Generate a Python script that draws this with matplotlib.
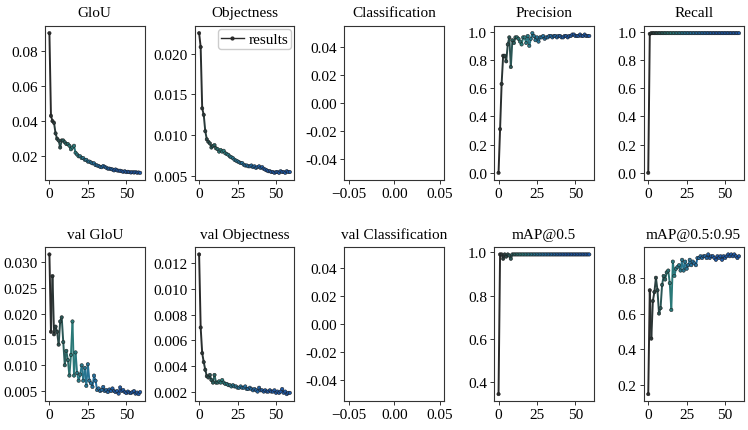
import numpy as np
import matplotlib
matplotlib.use("Agg")
import matplotlib.pyplot as plt
from matplotlib.collections import LineCollection
from matplotlib.colors import LinearSegmentedColormap
from matplotlib.lines import Line2D
from matplotlib.ticker import MultipleLocator, FormatStrFormatter

plt.rcParams["font.family"] = ["Liberation Serif", "DejaVu Serif"]

titles = ["GloU", "Objectness", "Classification", "Precision", "Recall",
          "val GloU", "val Objectness", "val Classification", "mAP@0.5", "mAP@0.5:0.95"]

epochs = list(range(60))

giou = [0.090, 0.043, 0.040, 0.039, 0.033, 0.030, 0.029, 0.025, 0.029, 0.029,
        0.028, 0.027, 0.027, 0.026, 0.024, 0.025, 0.026, 0.022, 0.021, 0.020,
        0.020, 0.019, 0.019, 0.018, 0.018, 0.017, 0.017, 0.0165, 0.016, 0.016,
        0.015, 0.0148, 0.0145, 0.014, 0.0138, 0.0145, 0.014, 0.0135, 0.013, 0.013,
        0.0128, 0.0125, 0.012, 0.0125, 0.012, 0.0118, 0.0118, 0.0115, 0.0112, 0.0115,
        0.011, 0.0112, 0.011, 0.0108, 0.011, 0.0108, 0.011, 0.0107, 0.0108, 0.0106]

objectness = [0.0225, 0.0208, 0.0133, 0.0125, 0.0105, 0.0095, 0.0092, 0.0090, 0.0085, 0.0087,
              0.0088, 0.0084, 0.0083, 0.0080, 0.0082, 0.0080, 0.0081, 0.0078, 0.0077, 0.0076,
              0.0074, 0.0073, 0.0072, 0.0070, 0.0069, 0.0068, 0.0067, 0.0066, 0.0066, 0.0064,
              0.0063, 0.0063, 0.0062, 0.0062, 0.0063, 0.0061, 0.0062, 0.0060, 0.0061, 0.0062,
              0.0060, 0.0061, 0.0059, 0.0058, 0.0057, 0.0056, 0.0056, 0.0055, 0.0055, 0.0054,
              0.0055, 0.0055, 0.0054, 0.0056, 0.0055, 0.0055, 0.0054, 0.0056, 0.0055, 0.0055]

classification = []

precision = [0.0, 0.31, 0.63, 0.83, 0.83, 0.79, 0.91, 0.96, 0.75, 0.94,
             0.92, 0.96, 0.96, 0.95, 0.93, 0.91, 0.96, 0.96, 0.92, 0.97,
             0.90, 0.95, 0.99, 0.97, 0.94, 0.96, 0.93, 0.96, 0.96, 0.97,
             0.95, 0.96, 0.96, 0.97, 0.97, 0.96, 0.97, 0.97, 0.96, 0.97,
             0.97, 0.96, 0.96, 0.97, 0.97, 0.96, 0.97, 0.97, 0.98, 0.98,
             0.97, 0.97, 0.97, 0.98, 0.97, 0.97, 0.98, 0.97, 0.97, 0.97]

recall = [0.0, 0.985, 0.99, 0.99, 0.99, 0.99, 0.99, 0.99, 0.99, 0.99,
          0.99, 0.99, 0.99, 0.99, 0.99, 0.99, 0.99, 0.99, 0.99, 0.99,
          0.99, 0.99, 0.99, 0.99, 0.99, 0.99, 0.99, 0.99, 0.99, 0.99,
          0.99, 0.99, 0.99, 0.99, 0.99, 0.99, 0.99, 0.99, 0.99, 0.99,
          0.99, 0.99, 0.99, 0.99, 0.99, 0.99, 0.99, 0.99, 0.99, 0.99,
          0.99, 0.99, 0.99, 0.99, 0.99, 0.99, 0.99, 0.99, 0.99, 0.99]

val_giou = [0.0315, 0.0165, 0.0273, 0.0160, 0.0175, 0.0165, 0.0140, 0.0185, 0.0193, 0.0145,
            0.0100, 0.0128, 0.0110, 0.0080, 0.0120, 0.0185, 0.0080, 0.0125, 0.0085, 0.0070,
            0.0082, 0.0100, 0.0070, 0.0095, 0.0060, 0.0102, 0.0070, 0.0065, 0.0058, 0.0080,
            0.0070, 0.0052, 0.0055, 0.0050, 0.0052, 0.0058, 0.0050, 0.0052, 0.0048, 0.0053,
            0.0050, 0.0055, 0.0050, 0.0048, 0.0050, 0.0045, 0.0057, 0.0050, 0.0052, 0.0048,
            0.0046, 0.0049, 0.0047, 0.0046, 0.0048, 0.0050, 0.0045, 0.0047, 0.0044, 0.0048]

val_objectness = [0.0127, 0.0070, 0.0050, 0.0043, 0.0037, 0.0032, 0.0031, 0.0033, 0.0029, 0.0027,
                  0.0033, 0.0027, 0.0027, 0.0028, 0.0027, 0.0029, 0.0027, 0.0026, 0.0026, 0.0025,
                  0.0025, 0.0024, 0.0025, 0.0024, 0.0024, 0.0023, 0.0023, 0.0024, 0.0023, 0.0023,
                  0.0024, 0.0022, 0.0022, 0.0023, 0.0022, 0.0021, 0.0022, 0.0021, 0.0020, 0.0023,
                  0.0021, 0.0021, 0.0020, 0.0021, 0.0020, 0.0020, 0.0021, 0.0020, 0.0020, 0.0021,
                  0.0019, 0.0020, 0.0019, 0.0020, 0.0022, 0.0019, 0.0020, 0.0018, 0.0019, 0.0019]

val_classification = []

map05 = [0.345, 0.99, 0.99, 0.97, 0.99, 0.98, 0.99, 0.985, 0.97, 0.99,
         0.99, 0.99, 0.99, 0.99, 0.99, 0.99, 0.99, 0.99, 0.99, 0.99,
         0.99, 0.99, 0.99, 0.99, 0.99, 0.99, 0.99, 0.99, 0.99, 0.99,
         0.99, 0.99, 0.99, 0.99, 0.99, 0.99, 0.99, 0.99, 0.99, 0.99,
         0.99, 0.99, 0.99, 0.99, 0.99, 0.99, 0.99, 0.99, 0.99, 0.99,
         0.99, 0.99, 0.99, 0.99, 0.99, 0.99, 0.99, 0.99, 0.99, 0.99]

map0595 = [0.15, 0.73, 0.46, 0.67, 0.72, 0.80, 0.73, 0.60, 0.63, 0.76,
           0.81, 0.79, 0.83, 0.84, 0.77, 0.62, 0.89, 0.81, 0.85, 0.86,
           0.87, 0.84, 0.90, 0.84, 0.89, 0.85, 0.87, 0.90, 0.87, 0.89,
           0.88, 0.87, 0.91, 0.91, 0.92, 0.91, 0.92, 0.92, 0.91, 0.93,
           0.91, 0.92, 0.92, 0.91, 0.90, 0.92, 0.91, 0.92, 0.90, 0.92,
           0.91, 0.92, 0.93, 0.92, 0.93, 0.92, 0.93, 0.92, 0.91, 0.92]

series = [giou, objectness, classification, precision, recall,
          val_giou, val_objectness, val_classification, map05, map0595]

# y tick step and label format per panel
ystep = [0.02, 0.005, 0.02, 0.2, 0.2, 0.005, 0.002, 0.02, 0.2, 0.2]
yfmt = ["%.2f", "%.3f", "%.2f", "%.1f", "%.1f", "%.3f", "%.3f", "%.2f", "%.1f", "%.1f"]

cmap = LinearSegmentedColormap.from_list(
    "res", ["#2a2a2a", "#2a7a78", "#2470a0", "#1f58a4", "#1f58a4"])

fig = plt.figure(figsize=(7.48, 4.31), dpi=100)
fig.subplots_adjust(left=0.06, right=0.994, top=0.937, bottom=0.067,
                    wspace=0.5, hspace=0.44)

for i, (t, y) in enumerate(zip(titles, series)):
    ax = fig.add_subplot(2, 5, i + 1)
    if len(y):
        x = np.array(epochs, dtype=float)
        y = np.array(y)
        pts = np.column_stack([x, y]).reshape(-1, 1, 2)
        segs = np.concatenate([pts[:-1], pts[1:]], axis=1)
        cols = cmap(np.linspace(0, 1, len(segs)))
        ax.add_collection(LineCollection(segs, colors=cols, linewidths=1.4))
        ax.scatter(x, y, s=6, c=cmap(np.linspace(0, 1, len(x))),
                   edgecolors="#1a1a1a", linewidths=0.35, zorder=3)
        ax.autoscale_view()
        ax.set_xticks([0, 25, 50])
    else:
        ax.plot([], [])
        ax.set_xlim(-0.055, 0.055)
        ax.set_ylim(-0.055, 0.055)
        ax.set_xticks([-0.05, 0.0, 0.05])
    ax.yaxis.set_major_locator(MultipleLocator(ystep[i]))
    ax.yaxis.set_major_formatter(FormatStrFormatter(yfmt[i]))
    ax.set_title(t, fontsize=11, pad=7)
    ax.tick_params(labelsize=11, length=3, width=0.7, color="#333333", pad=2)
    for s in ax.spines.values():
        s.set_color("#333333")
        s.set_linewidth(0.8)
    if t == "Objectness":
        h = Line2D([], [], color="#2a2a2a", lw=1, marker=".", ms=4)
        ax.legend([h], ["results"], loc="upper right", fontsize=11,
                  handlelength=1.5, borderpad=0.2, handletextpad=0.3,
                  borderaxespad=0.2, framealpha=1, edgecolor="#cccccc")

fig.savefig("out.png", dpi=100)
